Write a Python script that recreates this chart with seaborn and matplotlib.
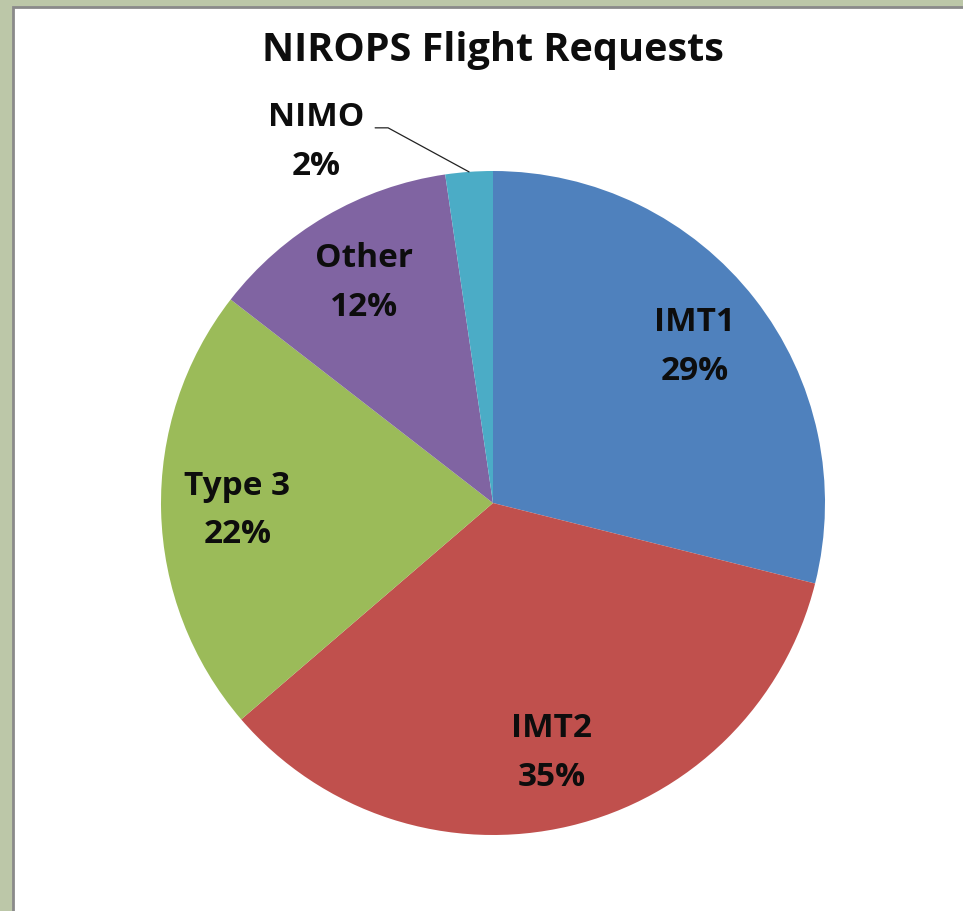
import matplotlib
matplotlib.use("Agg")
import numpy as np
import matplotlib.pyplot as plt
import seaborn as sns
from matplotlib.patches import Rectangle

# Chart data (slice sizes estimated from the angles)
categories = ["IMT1", "IMT2", "Type 3", "Other", "NIMO"]
shares = [28.9, 34.8, 21.8, 12.2, 2.3]
slice_colors = ["#4F81BD", "#C0504D", "#9BBB59", "#8064A2", "#4BACC6"]
title = "NIROPS Flight Requests"

sns.set_theme(style="white")
plt.rcParams['font.family'] = ['Open Sans', 'DejaVu Sans']

fig = plt.figure(figsize=(9.63, 9.12), dpi=100)
fig.patch.set_facecolor("#BCC7A8")                                   # greenish slide frame

# white chart area with thin gray border, running off the right and bottom edges
fig.add_artist(Rectangle((13 / 963, -0.01), 1.0, 1 - 8 / 912 + 0.01,
                         transform=fig.transFigure, facecolor="white",
                         edgecolor="#8A8A8A", linewidth=2, zorder=0))

ax = fig.add_axes([161 / 963, 76 / 912, 664 / 963, 664 / 912])
ax.set_facecolor("none")

names = iter(categories)
def label_fmt(pct):                                                  # name + rounded percent inside each slice
    name = next(names)
    if name == "NIMO":
        return ""                                                    # too thin, labelled outside
    return f"{name}\n{pct:.0f}%"

wedges, _, autotexts = ax.pie(
    shares, colors=slice_colors, startangle=90, counterclock=False,
    radius=1, autopct=label_fmt, pctdistance=0.77,
    wedgeprops=dict(linewidth=0),
    textprops=dict(fontsize=24, fontweight="bold", color="#0D0D0D"))
for t in autotexts:
    t.set_linespacing(1.63)

# NIMO label with leader line
w = wedges[categories.index("NIMO")]
mid = np.deg2rad((w.theta1 + w.theta2) / 2)
xe, ye = np.cos(mid), np.sin(mid)
ax.plot([xe, -0.316, -0.355], [ye, 1.13, 1.13], color="#222222",
        linewidth=0.9, clip_on=False)
ax.text(-0.533, 1.09, f"NIMO\n{shares[-1]:.0f}%", ha="center", va="center",
        fontsize=24, fontweight="bold", color="#0D0D0D", linespacing=1.63)

ax.set_xlim(-1, 1)
ax.set_ylim(-1, 1)
ax.axis("off")

fig.text(493 / 963, 1 - 50 / 912, title, ha="center", va="center",
         fontsize=28.5, fontweight="bold", color="#0D0D0D")

fig.savefig("out.png", dpi=100, facecolor=fig.get_facecolor())
